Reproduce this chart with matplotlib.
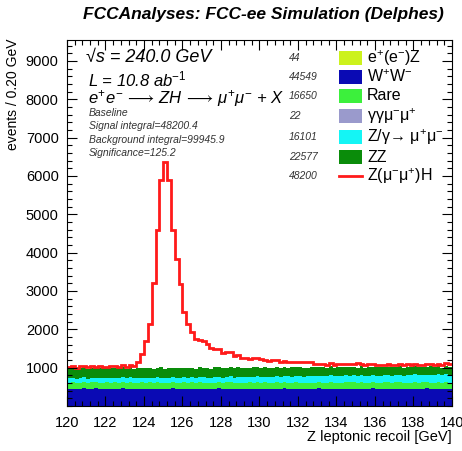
import numpy as np
import matplotlib
matplotlib.use("Agg")
import matplotlib.pyplot as plt
from matplotlib.patches import Rectangle
from matplotlib.lines import Line2D

plt.rcParams['font.family'] = ['Liberation Sans', 'DejaVu Sans']
plt.rcParams['mathtext.fontset'] = 'custom'
plt.rcParams['mathtext.rm'] = 'Liberation Sans'
plt.rcParams['mathtext.it'] = 'Liberation Sans:italic'
plt.rcParams['mathtext.bf'] = 'Liberation Sans:bold'
plt.rcParams['mathtext.sf'] = 'Liberation Sans'

# ---------------- data ----------------
x_min, x_max, bin_width = 120.0, 140.0, 0.2
x_ticks = [120, 122, 124, 126, 128, 130, 132, 134, 136, 138, 140]
y_ticks = [1000, 2000, 3000, 4000, 5000, 6000, 7000, 8000, 9000]

ee_z = [0.4, 0.5, 0.4, 0.4, 0.5, 0.4, 0.4, 0.5, 0.4, 0.4,
        0.5, 0.4, 0.4, 0.5, 0.4, 0.4, 0.5, 0.4, 0.4, 0.5,
        0.4, 0.4, 0.5, 0.4, 0.4, 0.5, 0.4, 0.4, 0.5, 0.4,
        0.4, 0.5, 0.4, 0.4, 0.5, 0.4, 0.4, 0.5, 0.4, 0.4,
        0.5, 0.4, 0.4, 0.5, 0.4, 0.4, 0.5, 0.4, 0.4, 0.5,
        0.4, 0.4, 0.5, 0.4, 0.4, 0.5, 0.4, 0.4, 0.5, 0.4,
        0.4, 0.5, 0.4, 0.4, 0.5, 0.4, 0.4, 0.5, 0.4, 0.4,
        0.5, 0.4, 0.4, 0.5, 0.4, 0.4, 0.5, 0.4, 0.4, 0.5,
        0.4, 0.4, 0.5, 0.4, 0.4, 0.5, 0.4, 0.4, 0.5, 0.4,
        0.4, 0.5, 0.4, 0.4, 0.5, 0.4, 0.4, 0.5, 0.4, 0.4]

ww = [448, 452, 437, 441, 456, 433, 447, 459, 440, 444,
      451, 436, 449, 442, 458, 439, 445, 453, 431, 447,
      442, 455, 438, 446, 450, 434, 448, 457, 443, 439,
      452, 441, 447, 436, 455, 444, 449, 432, 446, 458,
      440, 447, 453, 438, 445, 450, 436, 449, 443, 455,
      437, 446, 452, 441, 448, 435, 457, 444, 439, 451,
      446, 433, 450, 447, 442, 456, 438, 445, 453, 440,
      449, 437, 454, 443, 447, 434, 451, 446, 440, 458,
      436, 448, 444, 452, 439, 447, 455, 433, 449, 442,
      451, 438, 446, 457, 441, 445, 450, 437, 453, 444]

rare = [164, 171, 159, 168, 173, 161, 166, 158, 170, 165,
        162, 175, 167, 160, 169, 163, 172, 157, 166, 170,
        168, 159, 164, 174, 161, 167, 163, 171, 158, 165,
        170, 162, 168, 157, 173, 166, 160, 169, 164, 171,
        159, 167, 172, 163, 165, 158, 170, 166, 161, 174,
        163, 169, 157, 168, 165, 172, 160, 167, 171, 162,
        166, 173, 159, 164, 170, 161, 168, 157, 172, 165,
        160, 168, 163, 175, 166, 159, 171, 164, 167, 162,
        169, 158, 173, 165, 161, 168, 164, 170, 157, 166,
        172, 163, 167, 160, 171, 165, 169, 162, 168, 164]

gg_mumu = [0.2, 0.3, 0.2, 0.2, 0.2, 0.3, 0.2, 0.2, 0.2, 0.2,
           0.2, 0.2, 0.3, 0.2, 0.2, 0.2, 0.2, 0.3, 0.2, 0.2,
           0.2, 0.3, 0.2, 0.2, 0.2, 0.2, 0.2, 0.3, 0.2, 0.2,
           0.2, 0.2, 0.2, 0.3, 0.2, 0.2, 0.2, 0.2, 0.2, 0.3,
           0.2, 0.2, 0.3, 0.2, 0.2, 0.2, 0.2, 0.3, 0.2, 0.2,
           0.2, 0.3, 0.2, 0.2, 0.2, 0.2, 0.2, 0.2, 0.3, 0.2,
           0.2, 0.2, 0.2, 0.3, 0.2, 0.2, 0.2, 0.2, 0.2, 0.2,
           0.3, 0.2, 0.2, 0.2, 0.2, 0.3, 0.2, 0.2, 0.2, 0.2,
           0.2, 0.2, 0.3, 0.2, 0.2, 0.2, 0.2, 0.2, 0.3, 0.2,
           0.2, 0.2, 0.2, 0.2, 0.3, 0.2, 0.2, 0.2, 0.2, 0.2]

z_gamma = [112, 118, 109, 121, 115, 111, 119, 114, 122, 116,
           120, 113, 124, 117, 122, 119, 126, 115, 123, 121,
           127, 120, 129, 124, 131, 125, 128, 133, 126, 130,
           134, 129, 137, 131, 136, 140, 133, 138, 142, 135,
           143, 139, 146, 141, 148, 144, 150, 145, 152, 147,
           155, 149, 157, 153, 160, 154, 158, 163, 156, 161,
           165, 159, 168, 163, 170, 166, 172, 167, 175, 169,
           176, 172, 180, 174, 182, 178, 185, 179, 187, 183,
           188, 184, 192, 186, 194, 189, 196, 191, 199, 193,
           200, 195, 204, 198, 206, 201, 209, 203, 211, 205]

zz = [258, 266, 251, 262, 270, 255, 263, 249, 268, 259,
      255, 264, 250, 259, 267, 252, 261, 247, 265, 256,
      250, 259, 244, 254, 262, 247, 256, 241, 259, 250,
      245, 253, 239, 249, 256, 242, 251, 236, 254, 244,
      239, 248, 233, 243, 251, 236, 245, 230, 248, 238,
      233, 242, 227, 237, 245, 230, 239, 224, 242, 232,
      227, 235, 220, 231, 238, 223, 233, 217, 236, 226,
      220, 229, 214, 224, 232, 217, 226, 211, 229, 219,
      214, 222, 207, 218, 225, 210, 220, 204, 223, 213,
      207, 216, 201, 211, 219, 204, 213, 198, 216, 206]

signal = [38, 42, 35, 47, 40, 44, 36, 49, 41, 45,
          39, 52, 43, 48, 55, 50, 61, 72, 150, 350,
          713, 1149, 2235, 3585, 4890, 5390, 4890, 3585, 2845, 2200,
          1452, 1149, 950, 783, 713, 713, 634, 538, 478, 478,
          407, 410, 400, 321, 325, 261, 258, 235, 240, 228,
          232, 190, 185, 192, 188, 146, 150, 142, 148, 145,
          139, 147, 143, 140, 80, 76, 83, 78, 81, 75,
          79, 82, 77, 80, 74, 140, 62, 58, 65, 60,
          57, 63, 59, 64, 61, 58, 62, 60, 66, 59,
          63, 57, 61, 64, 58, 62, 65, 60, 63, 75]

legend_labels = [r'e$^{+}$(e$^{-}$)Z', r'W$^{+}$W$^{-}$', 'Rare',
                 r'γγμ$^{-}$μ$^{+}$', r'Z/γ→ μ$^{+}$μ$^{-}$', 'ZZ',
                 r'Z(μ$^{-}$μ$^{+}$)H']
legend_counts = ['44', '44549', '16650', '22', '16101', '22577', '48200']
colors = ['#ccf21c', '#0a0ab4', '#3cf03c', '#9a9acc', '#14f5f5', '#0a8c0a', '#ff1a1a']

# ---------------- figure ----------------
W, H = 462, 451
fig = plt.figure(figsize=(W / 100, H / 100), dpi=100)
ax = fig.add_axes([67 / W, 1 - 406 / H, (452 - 67) / W, (406 - 40) / H])

edges = np.arange(len(ww) + 1) * bin_width + x_min
stack = [ee_z, ww, rare, gg_mumu, z_gamma, zz]
bottom = np.zeros(len(ww))
for vals, col in zip(stack, colors[:6]):
    top = bottom + np.array(vals, dtype=float)
    ax.stairs(top, edges, baseline=bottom, fill=True, color=col, lw=0)
    bottom = top
total = bottom + np.array(signal, dtype=float)
ax.stairs(total, edges, baseline=None, color=colors[6], lw=2.0)

ax.set_xlim(x_min, x_max)
ax.set_ylim(0, 9545)
ax.set_xticks(x_ticks)
ax.set_yticks(y_ticks)
ax.set_xticks(np.arange(120, 140.01, 0.4), minor=True)
ax.set_yticks(np.arange(0, 9545, 200), minor=True)
ax.tick_params(which='both', direction='in', top=True, right=True, labelsize=10.5, width=0.8)
ax.tick_params(which='major', length=7, pad=6)
ax.tick_params(which='minor', length=3.5)
ax.tick_params(axis='x', pad=7)
for s in ax.spines.values():
    s.set_linewidth(0.8)

fig.text(452 / W, 1 - 437 / H, 'Z leptonic recoil [GeV]', ha='right', va='center', fontsize=10.5)
fig.text(13 / W, 1 - 39 / H, 'events / 0.20 GeV', rotation=90, ha='center', va='top', fontsize=10)
fig.text(263 / W, 1 - 14 / H, 'FCCAnalyses: FCC-ee Simulation (Delphes)', ha='center', va='center',
         fontsize=12.5, fontweight='bold', fontstyle='italic')

# text block
fig.text(86 / W, 1 - 57 / H, '√s = 240.0 GeV', ha='left', va='center', fontsize=13, fontstyle='italic')
fig.text(88 / W, 1 - 79 / H, r'L = 10.8 ab$^{-1}$', ha='left', va='center', fontsize=12, fontstyle='italic')
fig.text(88 / W, 1 - 98 / H,
         r'$e^{+}e^{-}\,\longrightarrow\,ZH\,\longrightarrow\,\mu^{+}\mu^{-}$ + $X$',
         ha='left', va='center', fontsize=12, fontstyle='italic')
small = ['Baseline', 'Signal integral=48200.4', 'Background integral=99945.9', 'Significance=125.2']
for i, t in enumerate(small):
    fig.text(89 / W, 1 - (113 + 13.3 * i) / H, t, ha='left', va='center', fontsize=7.5,
             fontstyle='italic', color='#333333')

# legend
row_y = [58, 77, 96, 116, 137, 157, 176]
for i in range(7):
    yc = row_y[i]
    fig.text(289 / W, 1 - yc / H, legend_counts[i], ha='left', va='center', fontsize=7.5,
             fontstyle='italic', color='#333333')
    if i < 6:
        fig.patches.append(Rectangle((339 / W, 1 - (yc + 7) / H), 23 / W, 14 / H,
                                     transform=fig.transFigure, facecolor=colors[i], edgecolor='none'))
    else:
        fig.lines.append(Line2D([339 / W, 362 / W], [1 - yc / H, 1 - yc / H],
                                transform=fig.transFigure, color=colors[i], lw=2))
    fig.text(367 / W, 1 - yc / H, legend_labels[i], ha='left', va='center', fontsize=11.5)

fig.savefig('out.png', dpi=100)
